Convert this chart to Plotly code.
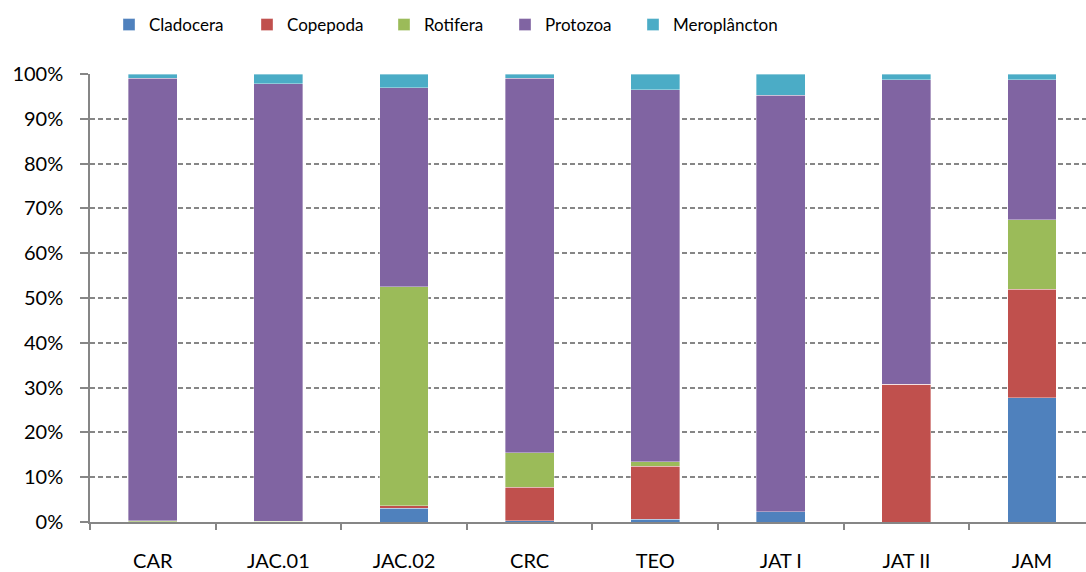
import plotly.graph_objects as go

categories = ["CAR", "JAC.01", "JAC.02", "CRC", "TEO", "JAT I", "JAT II", "JAM"]
cladocera = [0.0, 0.0, 3.1, 0.3, 0.6, 2.3, 0.0, 27.7]
copepoda = [0.1, 0.1, 0.5, 7.5, 11.8, 0.0, 30.8, 24.3]
rotifera = [0.2, 0.1, 48.9, 7.7, 1.1, 0.0, 0.0, 15.5]
protozoa = [98.7, 97.6, 44.4, 83.6, 83.0, 93.0, 67.9, 31.2]
meroplancton = [1.0, 2.2, 3.1, 0.9, 3.5, 4.7, 1.3, 1.3]

series = [
    ("Cladocera", cladocera, "#4F81BD"),
    ("Copepoda", copepoda, "#C0504D"),
    ("Rotifera", rotifera, "#9BBB59"),
    ("Protozoa", protozoa, "#8064A2"),
    ("Meroplâncton", meroplancton, "#4BACC6"),
]
legend_left_px = [109, 247, 384, 505, 633]

font_family = "Lato, 'Open Sans', sans-serif"
W, H = 1086, 572
ML, MR, MT, MB = 90, 0, 74, 50

fig = go.Figure()
legend_layout = {}
for i, (name, vals, color) in enumerate(series):
    lname = "legend" if i == 0 else f"legend{i + 1}"
    fig.add_trace(go.Bar(
        x=categories, y=vals, name=name, legend=lname,
        marker=dict(color=color, line=dict(color="rgba(255,255,255,0.45)", width=0.8)),
    ))
    legend_layout[lname] = dict(
        x=(legend_left_px[i] - ML) / (W - ML - MR), xanchor="left",
        y=1 - 25 / H, yanchor="middle", yref="container",
        font=dict(size=17, color="#000000"), itemwidth=30,
        bgcolor="rgba(0,0,0,0)",
    )

fig.update_layout(
    barmode="stack",
    bargap=0.61,
    width=W, height=H,
    margin=dict(l=ML, r=MR, t=MT, b=MB, autoexpand=False),
    plot_bgcolor="white", paper_bgcolor="white",
    font=dict(family=font_family, size=17, color="#000000"),
    showlegend=True,
    **legend_layout,
)

fig.update_xaxes(
    type="category",
    range=[-0.5, 7.43],
    showline=True, linecolor="#868686", linewidth=1.5,
    ticks="outside", tickson="boundaries", ticklen=6, tickcolor="#868686", tickwidth=1.5,
    ticklabelstandoff=20,
    showgrid=False,
    tickfont=dict(size=20, color="#000000"),
)
fig.update_yaxes(
    range=[0, 100],
    tickvals=[0, 10, 20, 30, 40, 50, 60, 70, 80, 90, 100],
    ticktext=["0%", "10%", "20%", "30%", "40%", "50%", "60%", "70%", "80%", "90%", "100%"],
    showline=True, linecolor="#868686", linewidth=1.5,
    ticks="outside", ticklen=8, tickcolor="#868686", tickwidth=1.5,
    ticklabelstandoff=13,
    showgrid=True, gridcolor="#868686", gridwidth=1.5, griddash="5px,3px",
    tickfont=dict(size=20, color="#000000"),
    zeroline=False,
)

fig.write_html(
    "out.html",
    config={"displayModeBar": False},
    post_script="document.body.style.margin='0';document.body.style.overflow='hidden';",
)
